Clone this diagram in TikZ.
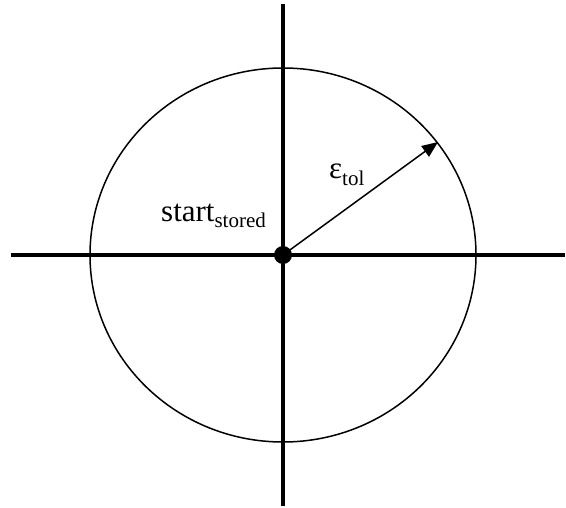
\documentclass[tikz,border=0pt]{standalone}
\usepackage{fontspec}
\setmainfont{Liberation Serif}
\usetikzlibrary{arrows.meta}
\begin{document}
\begin{tikzpicture}[x=1pt,y=-1pt,
  axis/.style={line width=4pt},
  thin line/.style={line width=1.5pt},
  label/.style={font=\fontsize{31}{36}\selectfont, inner sep=0pt, anchor=base west}]
\useasboundingbox (0,0) rectangle (566,508);
\coordinate (L) at (11,255);
\coordinate (R) at (565,255);
\coordinate (T) at (283,4);
\coordinate (B) at (283,506);
\coordinate (tip) at (438,142);
\draw[thin line] (283,255) ellipse [x radius=193pt, y radius=187pt];
\draw[axis] (L) -- (R);
\draw[axis] (T) -- (B);
\node[circle, fill=black, inner sep=0pt, minimum size=18pt] (c) at (283,255) {};
\draw[thin line, -{Triangle[length=16pt,width=13pt]}] (c.center) -- (tip);
\node[label] (eps) at (329,179) {ε\textsubscript{\fontsize{21}{24}\selectfont tol}};
\node[label] (start) at (161,222) {start\textsubscript{\fontsize{21}{24}\selectfont stored}};
\end{tikzpicture}
\end{document}
